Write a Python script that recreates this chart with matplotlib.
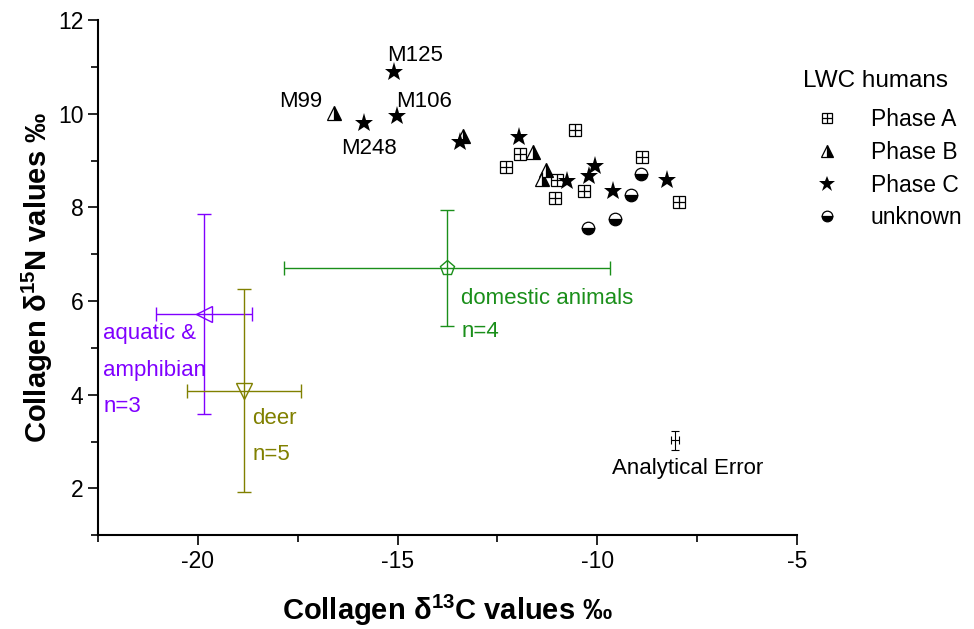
import matplotlib
matplotlib.use("Agg")
import matplotlib.pyplot as plt
from matplotlib.ticker import MultipleLocator

plt.rcParams['font.family'] = ['Liberation Sans', 'DejaVu Sans']
plt.rcParams['mathtext.fontset'] = 'custom'
plt.rcParams['mathtext.rm'] = 'Liberation Sans'
plt.rcParams['mathtext.bf'] = 'Liberation Sans:bold'
plt.rcParams['mathtext.it'] = 'Liberation Sans:italic'
plt.rcParams['axes.unicode_minus'] = False

# LWC humans
phase_a_c = [-11.93, -12.28, -11.01, -11.06, -10.56, -10.33, -8.88, -7.95]
phase_a_n = [9.14, 8.86, 8.58, 8.20, 9.65, 8.35, 9.07, 8.11]
phase_b_c = [-16.59, -13.36, -11.61, -11.28, -11.38]
phase_b_n = [10.01, 9.52, 9.18, 8.79, 8.60]
phase_c_c = [-15.09, -15.01, -15.84, -13.44, -11.96, -10.76, -10.21, -10.06, -9.61, -8.25]
phase_c_n = [10.89, 9.95, 9.80, 9.39, 9.50, 8.56, 8.67, 8.88, 8.35, 8.58]
unknown_c = [-10.23, -9.56, -9.16, -8.90]
unknown_n = [7.56, 7.75, 8.26, 8.71]

# fauna means +- sd
fauna_names = ["aquatic", "deer", "domestic"]
fauna_c = [-19.85, -18.85, -13.76]
fauna_n = [5.72, 4.09, 6.70]
fauna_c_sd = [1.2, 1.43, 4.08]
fauna_n_sd = [2.13, 2.17, 1.24]
fauna_markers = ["<", "v", "p"]
fauna_colors = ["#8000ff", "#808000", "#1a8f1a"]

err_c, err_n, err_c_sd, err_n_sd = -8.05, 3.03, 0.1, 0.2

fig = plt.figure(figsize=(9.74, 6.29), dpi=100)
ax = fig.add_axes([0.1006, 0.149, 0.7177, 0.819])

ms = 9
sq = ax.plot(phase_a_c, phase_a_n, 's', ms=ms, mfc='white', mec='black', mew=0.9, ls='none')[0]
sq2 = ax.plot(phase_a_c, phase_a_n, '+', ms=ms, mec='black', mew=0.9, ls='none')[0]
tri = ax.plot(phase_b_c, phase_b_n, '^', ms=ms + 1, fillstyle='right', mfc='black',
              markerfacecoloralt='white', mec='black', mew=0.9, ls='none')[0]
star = ax.plot(phase_c_c, phase_c_n, '*', ms=ms + 5, color='black', mew=0, ls='none')[0]
unk = ax.plot(unknown_c, unknown_n, 'o', ms=ms, fillstyle='bottom', mfc='black',
              markerfacecoloralt='white', mec='black', mew=0.9, ls='none')[0]

for i in range(len(fauna_names)):
    ax.errorbar(fauna_c[i], fauna_n[i], xerr=fauna_c_sd[i], yerr=fauna_n_sd[i],
                fmt=fauna_markers[i], ms=11, mfc='none', mec=fauna_colors[i],
                ecolor=fauna_colors[i], elinewidth=1, capsize=5, capthick=1, mew=1)

ax.errorbar(err_c, err_n, xerr=err_c_sd, yerr=err_n_sd, fmt='none', ecolor='black',
            elinewidth=0.8, capsize=3, capthick=0.8)

fs = 16
ax.text(-14.56, 11.25, "M125", fontsize=fs, ha='center', va='center')
ax.text(-17.42, 10.27, "M99", fontsize=fs, ha='center', va='center')
ax.text(-14.34, 10.27, "M106", fontsize=fs, ha='center', va='center')
ax.text(-15.72, 9.26, "M248", fontsize=fs, ha='center', va='center')
ax.text(-13.41, 6.06, "domestic animals", fontsize=fs, color=fauna_colors[2], va='center')
ax.text(-13.41, 5.36, "n=4", fontsize=fs, color=fauna_colors[2], va='center')
ax.text(-22.37, 5.31, "aquatic &", fontsize=fs, color=fauna_colors[0], va='center')
ax.text(-22.37, 4.52, "amphibian", fontsize=fs, color=fauna_colors[0], va='center')
ax.text(-22.37, 3.75, "n=3", fontsize=fs, color=fauna_colors[0], va='center')
ax.text(-18.64, 3.50, "deer", fontsize=fs, color=fauna_colors[1], va='center')
ax.text(-18.64, 2.73, "n=5", fontsize=fs, color=fauna_colors[1], va='center')
ax.text(-7.75, 2.43, "Analytical Error", fontsize=fs, ha='center', va='center')

ax.set_xlim(-22.5, -5)
ax.set_ylim(1, 12)
ax.xaxis.set_major_locator(MultipleLocator(5))
ax.xaxis.set_minor_locator(MultipleLocator(2.5))
ax.yaxis.set_major_locator(MultipleLocator(2))
ax.yaxis.set_minor_locator(MultipleLocator(1))
ax.tick_params(which='major', direction='out', length=7, width=1.2, labelsize=16.5)
ax.tick_params(which='minor', direction='out', length=5, width=1.2)
ax.spines['top'].set_visible(False)
ax.spines['right'].set_visible(False)
ax.spines['left'].set_linewidth(1.5)
ax.spines['bottom'].set_linewidth(1.5)

ax.set_xlabel(r'Collagen δ$^{\mathbf{13}}$C values ‰', fontsize=21, fontweight='bold', labelpad=14)
ax.set_ylabel(r'Collagen δ$^{\mathbf{15}}$N values ‰', fontsize=21, fontweight='bold', labelpad=2)

leg = ax.legend([(sq, sq2), tri, star, unk], ["Phase A", "Phase B", "Phase C", "unknown"],
                loc='upper left', bbox_to_anchor=(0.986, 0.935), frameon=False, fontsize=16.5,
                title="LWC humans", title_fontsize=17.5, alignment='left', markerscale=0.85,
                handlelength=2.1, handletextpad=0.85, labelspacing=0.42, borderpad=0.2)
leg._legend_box.sep = 12

plt.savefig("out.png", dpi=100)
